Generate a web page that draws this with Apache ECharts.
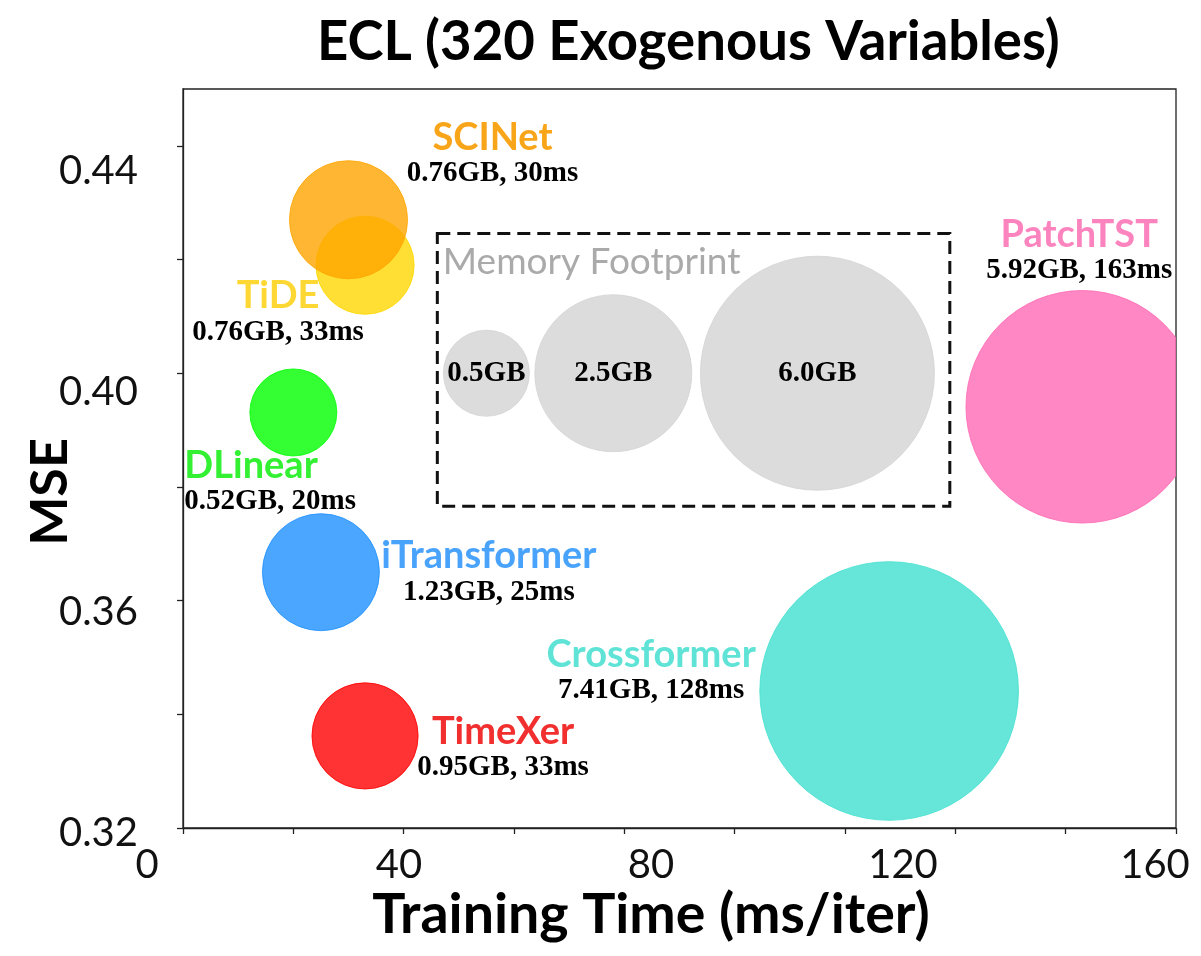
<!DOCTYPE html>
<html><head><meta charset="utf-8">
<script src="https://cdn.jsdelivr.net/npm/echarts@6/dist/echarts.min.js"></script>
<style>html,body{margin:0;padding:0;background:#fff}#c{width:1201px;height:956px}</style>
</head><body><div id="c"></div>
<script>
// ---- data ----
const models = ['DLinear', 'TiDE', 'SCINet', 'iTransformer', 'TimeXer', 'Crossformer', 'PatchTST'];
const trainTimeMs = [20, 33, 30, 25, 33, 128, 163];
const mse = [0.3931, 0.4190, 0.4270, 0.3650, 0.3362, 0.3441, 0.3941];
const memoryGB = [0.52, 0.76, 0.76, 1.23, 0.95, 7.41, 5.92];
const bubbleGB = [0.52, 0.76, 1.26, 1.23, 0.95, 7.41, 5.92]; // bubble size as drawn in the picture
const refMemoryGB = [0.5, 2.5, 6.0];
const refTimeMs = [55, 78, 115];
const refMse = [0.40, 0.40, 0.40];
const footprintBox = [[46.1, 0.4246], [139.0, 0.3766]];
const xTicks = [0, 20, 40, 60, 80, 100, 120, 140, 160, 180];
const yTicks = [0.32, 0.34, 0.36, 0.38, 0.40, 0.42, 0.44];
const xTickLabels = [0, 40, 80, 120, 160];
const yTickLabels = [0.32, 0.36, 0.40, 0.44];

// ---- styles ----
const modelColors = ['rgba(0,255,0,0.8)', 'rgba(255,215,0,0.8)', 'rgba(255,165,0,0.8)', 'rgba(30,144,255,0.8)',
  'rgba(255,0,0,0.8)', 'rgba(64,224,208,0.8)', 'rgba(255,105,180,0.8)'];
const refColor = 'rgba(211,211,211,0.8)';
const labelColors = ['#33f033', '#fdd835', '#f9a51a', '#4aa3fb', '#f22f2f', '#5fe3d6', '#fb84bf'];
// [dx, dy, align] relative to bubble centre, in pixels
const labelPlace = [[-109, 70, 'left'], [-87, 48, 'center'], [144, -65, 'center'], [168, 1, 'center'],
  [138, 13, 'center'], [-238, -19, 'center'], [-3, -155, 'center']];
const nameFont = 'Lato';
const subFont = '"Liberation Serif", serif';
function diameter(gb) { return 2 * Math.sqrt(773 + 2152.7 * gb); }

function bubbleRenderer(sizesGB, colorOf) {
  return function (params, api) {
    const c = api.coord([api.value(0), api.value(1)]);
    const r = diameter(sizesGB[params.dataIndex]) / 2;
    const col = colorOf(params.dataIndex);
    return { type: 'circle', shape: { cx: c[0], cy: c[1], r: r },
      style: { fill: col, stroke: col, lineWidth: 1 } };
  };
}

const chart = echarts.init(document.getElementById('c'), null, { renderer: 'canvas' });

const modelPoints = models.map((m, i) => [trainTimeMs[i], mse[i]]);
const refPoints = refMemoryGB.map((g, i) => [refTimeMs[i], refMse[i]]);

const modelLabelData = models.map((m, i) => ({
  value: [trainTimeMs[i], mse[i]],
  name: m,
  label: {
    show: true, position: 'inside',
    offset: [labelPlace[i][0], labelPlace[i][1]],
    align: labelPlace[i][2], verticalAlign: 'middle',
    formatter: '{n|' + m + '}\n{s|' + memoryGB[i].toFixed(2) + 'GB, ' + trainTimeMs[i] + 'ms}',
    rich: {
      n: { fontFamily: nameFont, fontWeight: 'bold', fontSize: 38, lineHeight: 38, color: labelColors[i], align: labelPlace[i][2] },
      s: { fontFamily: subFont, fontWeight: 'bold', fontSize: 29, lineHeight: 34, color: '#000', align: labelPlace[i][2] }
    }
  }
}));

const refLabelData = refMemoryGB.map((g, i) => ({
  value: [refTimeMs[i], refMse[i]],
  label: { show: true, position: 'inside', formatter: g.toFixed(1) + 'GB',
    fontFamily: subFont, fontWeight: 'bold', fontSize: 29, color: '#000' }
}));

const axisLineStyle = { color: '#222', width: 1.3 };
const invisible = { color: 'rgba(0,0,0,0)', borderWidth: 0, opacity: 1 };

chart.setOption({
  animation: false,
  backgroundColor: '#fff',
  title: {
    text: 'ECL (320 Exogenous Variables)',
    left: 312, top: 10,
    textStyle: { fontFamily: 'Lato', fontWeight: 'bold', fontSize: 54.5, color: '#000' }
  },
  grid: [
    { left: 183, top: 89, width: 993, height: 739, show: true, borderColor: '#222', borderWidth: 1.3,
      backgroundColor: 'transparent', containLabel: false, outerBoundsMode: 'none' },
    { left: 147, top: 171, width: 1008, height: 662, show: false, containLabel: false, outerBoundsMode: 'none' }
  ],
  xAxis: [
    { gridIndex: 0, type: 'value', min: 0, max: 180, interval: 20, z: 10,
      axisLine: { show: true, lineStyle: axisLineStyle },
      axisTick: { show: true, inside: false, length: 6, lineStyle: axisLineStyle, customValues: xTicks },
      axisLabel: { show: false }, splitLine: { show: false } },
    { gridIndex: 1, type: 'value', min: 0, max: 160, interval: 40,
      axisLine: { show: false }, axisTick: { show: false }, splitLine: { show: false },
      axisLabel: { show: true, customValues: xTickLabels, margin: 12, fontFamily: 'Lato', fontSize: 40, color: '#111',
        formatter: v => String(v) },
      name: 'Training Time (ms/iter)', nameLocation: 'middle', nameGap: 54, nameMoveOverlap: false,
      nameTextStyle: { fontFamily: 'Lato', fontWeight: 'bold', fontSize: 55.5, color: '#000' } }
  ],
  yAxis: [
    { gridIndex: 0, type: 'value', min: 0.32, max: 0.45, interval: 0.02, z: 10,
      axisLine: { show: true, lineStyle: axisLineStyle },
      axisTick: { show: true, inside: false, length: 6, lineStyle: axisLineStyle, customValues: yTicks },
      axisLabel: { show: false }, splitLine: { show: false } },
    { gridIndex: 1, type: 'value', min: 0.32, max: 0.44, interval: 0.04,
      axisLine: { show: false }, axisTick: { show: false }, splitLine: { show: false },
      axisLabel: { show: true, customValues: yTickLabels, margin: 9, fontFamily: 'Lato', fontSize: 40, color: '#111',
        formatter: v => v.toFixed(2) },
      name: 'MSE', nameLocation: 'middle', nameGap: 71, nameRotate: 90, nameMoveOverlap: false,
      nameTextStyle: { fontFamily: 'Lato', fontWeight: 'bold', fontSize: 52, color: '#000', padding: [0, 0, 0, 20] } }
  ],
  series: [
    { // memory-footprint reference bubbles
      type: 'custom', xAxisIndex: 0, yAxisIndex: 0, clip: true, silent: true, z: 2,
      data: refPoints,
      renderItem: bubbleRenderer(refMemoryGB, () => refColor)
    },
    { // model bubbles (clipped to the plot frame)
      type: 'custom', xAxisIndex: 0, yAxisIndex: 0, clip: true, silent: true, z: 3,
      data: modelPoints,
      renderItem: bubbleRenderer(bubbleGB, i => modelColors[i])
    },
    { // reference labels + dashed box
      type: 'scatter', xAxisIndex: 0, yAxisIndex: 0, silent: true, z: 4,
      symbolSize: 1, itemStyle: invisible,
      data: refLabelData,
      markArea: {
        silent: true,
        itemStyle: { color: 'rgba(0,0,0,0)', borderColor: '#111', borderWidth: 3, borderType: [13, 7], opacity: 1 },
        label: { show: true, position: 'insideTopLeft', distance: 0, offset: [7, 12],
          fontFamily: 'Lato', fontSize: 37, color: '#aaa', formatter: 'Memory Footprint' },
        data: [[{ coord: footprintBox[0] }, { coord: footprintBox[1] }]]
      }
    },
    { // model labels
      type: 'scatter', xAxisIndex: 0, yAxisIndex: 0, silent: true, z: 5,
      symbolSize: 1, itemStyle: invisible,
      data: modelLabelData
    }
  ]
});
</script>
</body></html>
